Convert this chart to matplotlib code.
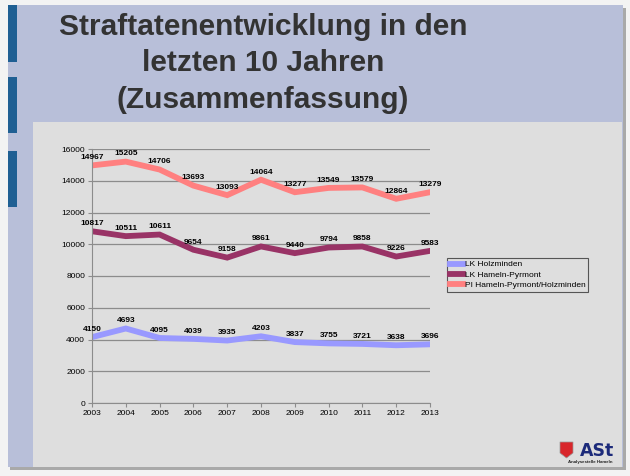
import numpy as np
import matplotlib.pyplot as plt
import matplotlib as mpl
from matplotlib import font_manager
from matplotlib.patches import Rectangle, Polygon

mpl.rcParams['font.family'] = ['Liberation Sans', 'DejaVu Sans']

# Daten
jahre = [2003, 2004, 2005, 2006, 2007, 2008, 2009, 2010, 2011, 2012, 2013]
holzminden = [4150, 4693, 4095, 4039, 3935, 4203, 3837, 3755, 3721, 3638, 3696]
hameln = [10817, 10511, 10611, 9654, 9158, 9861, 9440, 9794, 9858, 9226, 9583]
pi_gesamt = [14967, 15205, 14706, 13693, 13093, 14064, 13277, 13549, 13579, 12864, 13279]
serien = ['LK Holzminden', 'LK Hameln-Pyrmont', 'PI Hameln-Pyrmont/Holzminden']
farben = ['#9999ff', '#993366', '#ff8080']
titel = ['Straftatenentwicklung in den', 'letzten 10 Jahren', '(Zusammenfassung)']

W, H = 630, 476
fig = plt.figure(figsize=(W / 100, H / 100), dpi=100)
fig.patch.set_facecolor('#f3f3f3')


def box(x0, y0, x1, y1, color, z=0):
    # Rechteck in Pixelkoordinaten (y von oben)
    fig.patches.append(Rectangle((x0 / W, 1 - y1 / H), (x1 - x0) / W, (y1 - y0) / H,
                                 transform=fig.transFigure, facecolor=color,
                                 edgecolor='none', zorder=z))


# Folie
box(10, 8, 626, 470, '#a9a9a9', 0)
box(8, 5, 623, 467, '#b8bfd9', 1)
box(8, 5, 17, 62, '#1f5f93', 2)
box(8, 77, 17, 133, '#1f5f93', 2)
box(8, 151, 17, 207, '#1f5f93', 2)
box(33, 122, 622, 467, '#dedede', 2)

# Titel: schmale Schrift wenn vorhanden
namen = {f.name for f in font_manager.fontManager.ttflist}
if 'Liberation Sans Narrow' in namen:
    tfam, tsize = ['Liberation Sans Narrow', 'DejaVu Sans'], 24.5
else:
    tfam, tsize = ['Liberation Sans', 'DejaVu Sans'], 21.5
for zeile, y in zip(titel, [27, 63, 100]):
    fig.text(263 / W, 1 - y / H, zeile, ha='center', va='center', family=tfam,
             fontsize=tsize, fontweight='bold', color='#333333')

ax = fig.add_axes([92 / W, 1 - 403 / H, (430 - 92) / W, (403 - 149) / H])
ax.set_facecolor('none')
ax.set_zorder(5)

for werte, name, farbe in zip([holzminden, hameln, pi_gesamt], serien, farben):
    ax.plot(jahre, werte, color=farbe, lw=4.2, label=name, solid_joinstyle='miter')
    for x, y in zip(jahre, werte):
        ax.annotate(str(y), (x, y), xytext=(0, 5.5), textcoords='offset points',
                    ha='center', va='center', fontsize=6, fontweight='bold', color='black')

ax.set_xlim(2003, 2013)
ax.set_ylim(0, 16000)
ax.set_xticks(jahre)
ax.set_yticks(np.arange(0, 16001, 2000))
ax.yaxis.grid(True, color='#8c8c8c', lw=0.9)
ax.set_axisbelow(True)
for s in ['top', 'right']:
    ax.spines[s].set_visible(False)
for s in ['left', 'bottom']:
    ax.spines[s].set_color('#8c8c8c')
ax.tick_params(labelsize=6, colors='#8c8c8c', labelcolor='black', length=3, pad=2)

leg = ax.legend(loc='upper left', bbox_to_anchor=(443 / W, 1 - 254 / H),
                bbox_transform=fig.transFigure, fontsize=6, frameon=True,
                fancybox=False, handlelength=1.6, handletextpad=0.2,
                borderpad=0.3, labelspacing=0.3)
leg.get_frame().set_edgecolor('#333333')
leg.get_frame().set_facecolor('#dedede')
leg.get_frame().set_linewidth(0.8)

# Logo
shield = Polygon([(560 / W, 1 - 442 / H), (573 / W, 1 - 442 / H), (573 / W, 1 - 453 / H),
                  (566.5 / W, 1 - 458 / H), (560 / W, 1 - 453 / H)],
                 closed=True, transform=fig.transFigure, facecolor='#d8262b',
                 edgecolor='#999999', lw=0.5, zorder=6)
fig.patches.append(shield)
fig.text(597 / W, 1 - 451 / H, 'ASt', ha='center', va='center', fontsize=12.5,
         family=['DejaVu Sans'], fontweight='bold', color='#1c2a7a', zorder=6)
fig.text(590 / W, 1 - 462 / H, 'Analysestelle Hameln', ha='center', va='center',
         fontsize=3.2, fontweight='bold', color='#222222', zorder=6)

fig.savefig('out.png', dpi=100, facecolor=fig.get_facecolor())
